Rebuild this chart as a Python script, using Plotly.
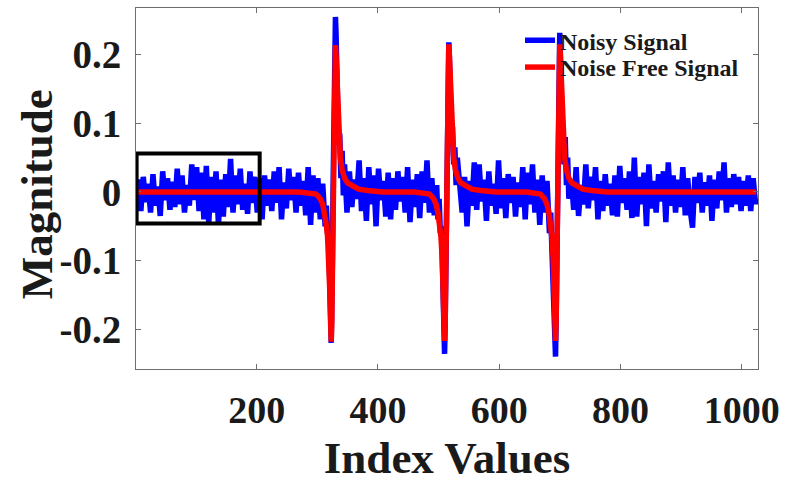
import plotly.graph_objects as go

# ---------------- data ----------------
# Noisy signal: regular stretches sampled every 4 indices, denser around the three spikes
noisy_x_seg1 = list(range(1, 314, 4))
noisy_y_seg1 = [
    -0.010, 0.018, -0.028, 0.022, -0.015, 0.012, -0.030, 0.026, -0.020, 0.008,
    -0.035, 0.030, -0.012, 0.020, -0.026, 0.015, -0.022, 0.034, -0.018, 0.024,
    -0.030, 0.010, -0.020, 0.040, -0.012, 0.036, -0.028, 0.028, -0.040, 0.038,
    -0.046, 0.022, -0.030, 0.030, -0.048, 0.018, -0.036, 0.026, -0.022, 0.048,
    -0.030, 0.024, -0.018, 0.034, -0.026, 0.012, -0.032, 0.030, -0.016, 0.022,
    -0.030, 0.020,
    -0.040, 0.024, -0.020, 0.018, -0.028, 0.030, -0.016, 0.036, -0.040, 0.014,
    -0.024, 0.034, -0.012, 0.022, -0.030, 0.028, -0.020, 0.016, -0.034, 0.036,
    -0.048, 0.024, -0.030, 0.020, -0.040, 0.012, -0.050,
]
noisy_x_spike1 = [315, 317, 319, 320, 321, 322, 323, 324, 325, 326, 327, 328,
                  329, 330, 331, 332, 333, 334, 335, 337, 339, 341, 343, 345]
noisy_y_spike1 = [-0.020, -0.060, -0.070, -0.110, -0.130, -0.180, -0.220, -0.180,
                  -0.100, 0.000, 0.100, 0.180, 0.235, 0.255, 0.230, 0.160, 0.100,
                  0.120, 0.070, 0.085, 0.020, 0.060, -0.005, 0.040]
noisy_x_seg2 = list(range(349, 498, 4))
noisy_y_seg2 = [
    -0.030, 0.030, -0.022, 0.018, -0.010, 0.046, -0.028, 0.020, -0.042, 0.036,
    -0.018, 0.024, -0.050, 0.034, -0.012, 0.016, -0.036, 0.028, -0.040, 0.020,
    -0.026, 0.030, -0.014, 0.022, -0.030, 0.036, -0.044, 0.018, -0.022, 0.026,
    -0.038, 0.030, -0.016, 0.046, -0.030, 0.020, -0.034, 0.010,
]
noisy_x_spike2 = [499, 501, 503, 505, 506, 507, 508, 509, 510, 511, 512, 513, 514,
                  515, 516, 517, 518, 519, 520, 521, 523, 525, 527, 529, 531]
noisy_y_spike2 = [-0.040, -0.010, -0.060, -0.050, -0.100, -0.120, -0.160, -0.210,
                  -0.236, -0.190, -0.110, 0.000, 0.090, 0.170, 0.210, 0.218, 0.195,
                  0.150, 0.140, 0.090, 0.095, 0.040, 0.065, 0.010, 0.050]
noisy_x_seg3 = list(range(535, 680, 4))
noisy_y_seg3 = [
    0.010, -0.030, 0.022, -0.050, 0.016, -0.020, 0.043, -0.026, 0.040, -0.014,
    0.018, -0.042, 0.030, -0.020, 0.012, -0.032, 0.046, -0.024, 0.020, -0.038,
    0.026, -0.016, 0.022, -0.036, 0.014, -0.022, 0.036, -0.040, 0.028, -0.018,
    0.040, -0.030, 0.018, -0.048, 0.024, -0.030, 0.016,
]
noisy_x_spike3 = [683, 685, 687, 689, 690, 691, 692, 693, 694, 695, 696, 697, 698,
                  699, 700, 701, 702, 703, 704, 705, 707, 709, 711, 713, 715]
noisy_y_spike3 = [-0.060, -0.030, -0.090, -0.100, -0.140, -0.170, -0.215, -0.240,
                  -0.190, -0.100, 0.000, 0.090, 0.175, 0.220, 0.232, 0.200, 0.145,
                  0.140, 0.090, 0.095, 0.040, 0.080, 0.010, 0.050, -0.010]
noisy_x_seg4 = list(range(719, 1024, 4)) + [1024]
noisy_y_seg4 = [
    0.018, -0.026, 0.036, -0.035, 0.010, -0.018, 0.040, -0.024, 0.022, -0.012,
    0.036, -0.040, 0.016, -0.028, 0.026, -0.020, 0.012, -0.034, 0.024, -0.036,
    0.038, -0.016, 0.020, -0.026, 0.030, -0.038, 0.050, -0.036, 0.022, -0.018,
    0.028, -0.050, 0.040, -0.024, 0.016, -0.030, 0.026, -0.014, 0.030, -0.044,
    0.043, -0.020, 0.024, -0.030, 0.018, -0.022, 0.036, -0.034, 0.020, -0.026,
    -0.052, 0.022, -0.016, 0.028, -0.030, 0.014, -0.020, 0.024, -0.042, 0.018,
    -0.024, 0.030, -0.012, 0.043, -0.030, 0.020, -0.022, 0.026, -0.018, 0.022,
    -0.028, 0.016, -0.020, 0.024, -0.028, 0.020, -0.018, -0.010,
]

# Noise free signal
clean_x = [1, 270, 298, 305, 309, 312, 315, 317, 319, 320.5, 322, 323, 324, 325,
           326, 327, 328, 329, 330, 331, 332, 333, 334, 336, 338, 341, 345, 350,
           358, 368, 383, 408,
           460, 485, 492, 496, 499, 502, 504, 506, 507.5, 509, 510, 511, 512, 513,
           514, 515, 516, 517, 518, 519, 520, 521, 523, 525, 528, 532, 537, 545,
           555, 570, 595,
           645, 668, 675, 679, 682, 685, 687, 689, 690.5, 692, 693, 694, 695, 696,
           697, 698, 699, 700, 701, 702, 703, 704, 706, 708, 711, 715, 720, 728,
           738, 753, 778, 1024]
clean_y = [0, 0, -0.003, -0.010, -0.018, -0.030, -0.048, -0.065, -0.095, -0.140,
           -0.190, -0.218, -0.190, -0.115, -0.015, 0.085, 0.160, 0.203, 0.214,
           0.198, 0.168, 0.135, 0.105, 0.068, 0.050, 0.032, 0.020, 0.013, 0.008,
           0.004, 0.002, 0,
           0, -0.003, -0.010, -0.018, -0.030, -0.048, -0.065, -0.095, -0.140,
           -0.190, -0.217, -0.190, -0.115, -0.015, 0.085, 0.160, 0.203, 0.215,
           0.198, 0.168, 0.135, 0.105, 0.068, 0.050, 0.032, 0.020, 0.013, 0.008,
           0.004, 0.002, 0,
           0, -0.003, -0.010, -0.018, -0.030, -0.048, -0.065, -0.095, -0.140,
           -0.190, -0.217, -0.190, -0.115, -0.015, 0.085, 0.160, 0.203, 0.215,
           0.198, 0.168, 0.135, 0.105, 0.068, 0.050, 0.032, 0.020, 0.013, 0.008,
           0.004, 0.002, 0, 0]

x_ticks = [200, 400, 600, 800, 1000]
y_ticks = [-0.2, -0.1, 0, 0.1, 0.2]
y_tick_labels = ["-0.2", "-0.1", "0", "0.1", "0.2"]

noisy_x = noisy_x_seg1 + noisy_x_spike1 + noisy_x_seg2 + noisy_x_spike2 + noisy_x_seg3 + noisy_x_spike3 + noisy_x_seg4
noisy_y = noisy_y_seg1 + noisy_y_spike1 + noisy_y_seg2 + noisy_y_spike2 + noisy_y_seg3 + noisy_y_spike3 + noisy_y_seg4
assert len(noisy_x) == len(noisy_y), (len(noisy_x), len(noisy_y))
assert len(clean_x) == len(clean_y), (len(clean_x), len(clean_y))

FONT = "Liberation Serif, Times New Roman, serif"
TXT = "#1a1a1a"
AXC = "#6e6e6e"
LEG_FONT = dict(family=FONT, size=24, color=TXT, weight="bold")

fig = go.Figure()
fig.add_trace(go.Scatter(x=noisy_x, y=noisy_y, mode="lines", name="Noisy Signal",
                         line=dict(color="#0000ff", width=5.5), legend="legend"))
fig.add_trace(go.Scatter(x=clean_x, y=clean_y, mode="lines", name="Noise Free Signal",
                         line=dict(color="#ff0000", width=5.5), legend="legend2"))

# highlighted region
fig.add_shape(type="rect", xref="x", yref="y", x0=2, x1=205, y0=-0.046, y1=0.056,
              line=dict(color="black", width=4), fillcolor="rgba(0,0,0,0)", layer="above")

# y axis title
fig.add_annotation(text="Magnitude", xref="paper", yref="paper", x=-0.158, y=0.4835,
                   xanchor="center", yanchor="middle", textangle=-90, showarrow=False,
                   font=dict(family=FONT, size=45, color=TXT, weight="bold"))

fig.update_layout(
    width=789, height=483,
    margin=dict(l=136, r=31, t=7, b=112),
    paper_bgcolor="white", plot_bgcolor="white",
    showlegend=True,
    legend=dict(x=0.6174, y=0.9093, xanchor="left", yanchor="middle",
                bgcolor="rgba(0,0,0,0)", borderwidth=0, font=LEG_FONT),
    legend2=dict(x=0.6174, y=0.8352, xanchor="left", yanchor="middle",
                 bgcolor="rgba(0,0,0,0)", borderwidth=0, font=LEG_FONT),
    xaxis=dict(range=[1, 1027], tickvals=x_ticks, ticks="inside", ticklen=5,
               tickwidth=1, tickcolor=AXC, showline=True, linecolor=AXC, linewidth=1,
               mirror="ticks", showgrid=False, zeroline=False,
               tickfont=dict(family=FONT, size=38, color=TXT, weight="bold"),
               ticklabelstandoff=7,
               title=dict(text="Index Values", standoff=14,
                          font=dict(family=FONT, size=45, color=TXT, weight="bold"))),
    yaxis=dict(range=[-0.258, 0.268], tickvals=y_ticks, ticktext=y_tick_labels,
               ticks="inside", ticklen=5, tickwidth=1, tickcolor=AXC, showline=True,
               linecolor=AXC, linewidth=1, mirror="ticks", showgrid=False,
               zeroline=False,
               tickfont=dict(family=FONT, size=39, color=TXT, weight="bold"),
               ticklabelstandoff=6),
)

fig.write_html("out.html")
